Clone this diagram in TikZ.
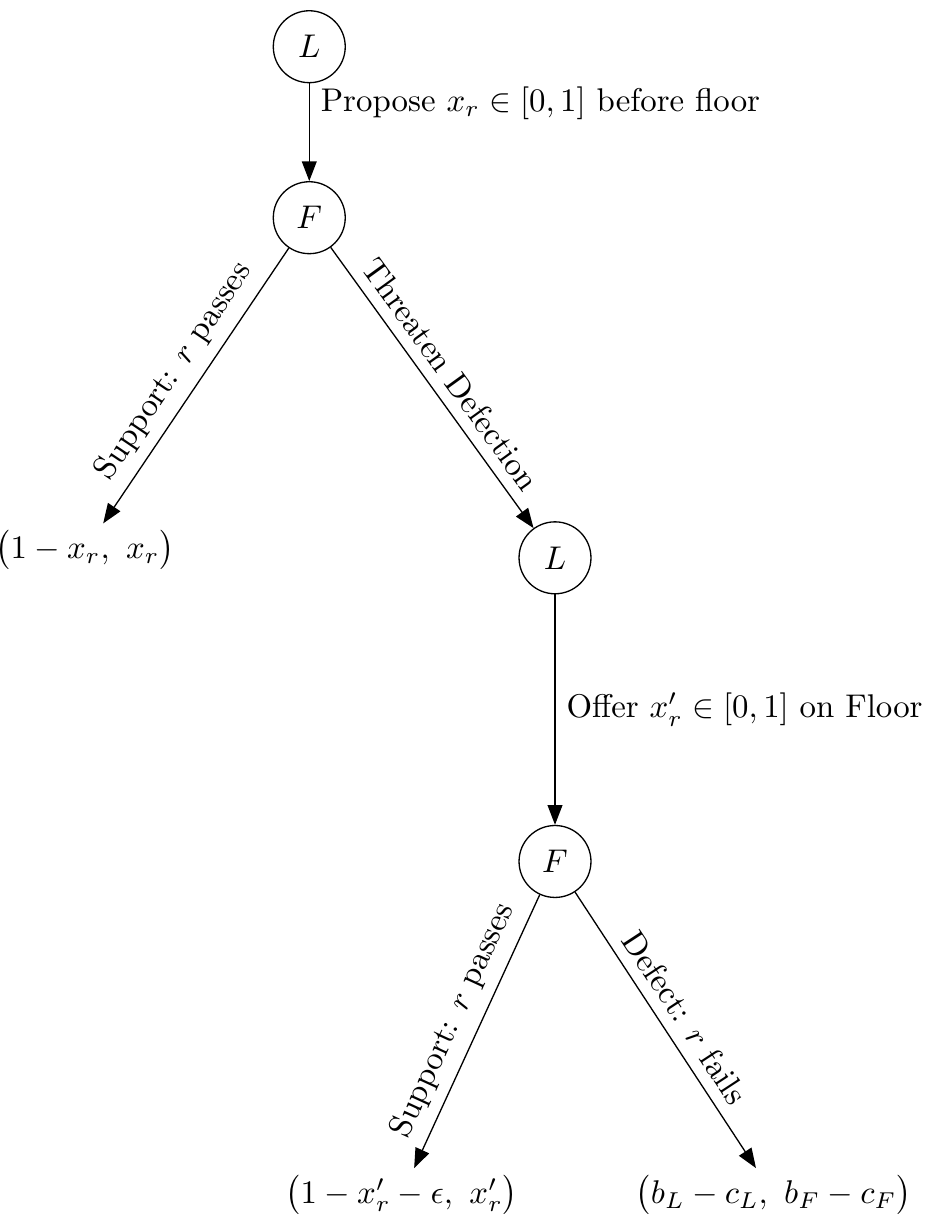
\documentclass[tikz,border=0pt]{standalone}
\usetikzlibrary{arrows.meta}
\begin{document}
\begin{tikzpicture}[>={Triangle[length=6pt,width=4.5pt]},
  player/.style={draw,circle,minimum size=0.77cm,inner sep=0pt},
  payoff/.style={inner sep=2pt}]
\useasboundingbox (0,0) rectangle (9.92,-13.10);
\node[player] (L1) at (3.31,-0.50) {$L$};
\node[player] (F1) at (3.31,-2.33) {$F$};
\node[payoff] (p1) at (0.91,-5.89) {$\bigl(1-x_r,\ x_r\bigr)$};
\node[player] (L2) at (5.94,-5.97) {$L$};
\node[player] (F2) at (5.94,-9.22) {$F$};
\node[payoff] (p2) at (4.30,-12.79) {$\bigl(1-x_r'-\epsilon,\ x_r'\bigr)$};
\node[payoff] (p3) at (8.28,-12.79) {$\bigl(b_L-c_L,\ b_F-c_F\bigr)$};
\draw[->] (L1) -- node[right,pos=0.2] {Propose $x_r \in [0,1]$ before floor} (F1);
\draw[->] (F1) -- node[sloped,above] {Support: $r$ passes} (p1);
\draw[->] (F1) -- node[sloped,above] {Threaten Defection} (L2);
\draw[->] (L2) -- node[right] {Offer $x_r' \in [0,1]$ on Floor} (F2);
\draw[->] (F2) -- node[sloped,above] {Support: $r$ passes} (p2);
\draw[->] (F2) -- node[sloped,above] {Defect: $r$ fails} (p3);
\end{tikzpicture}
\end{document}
